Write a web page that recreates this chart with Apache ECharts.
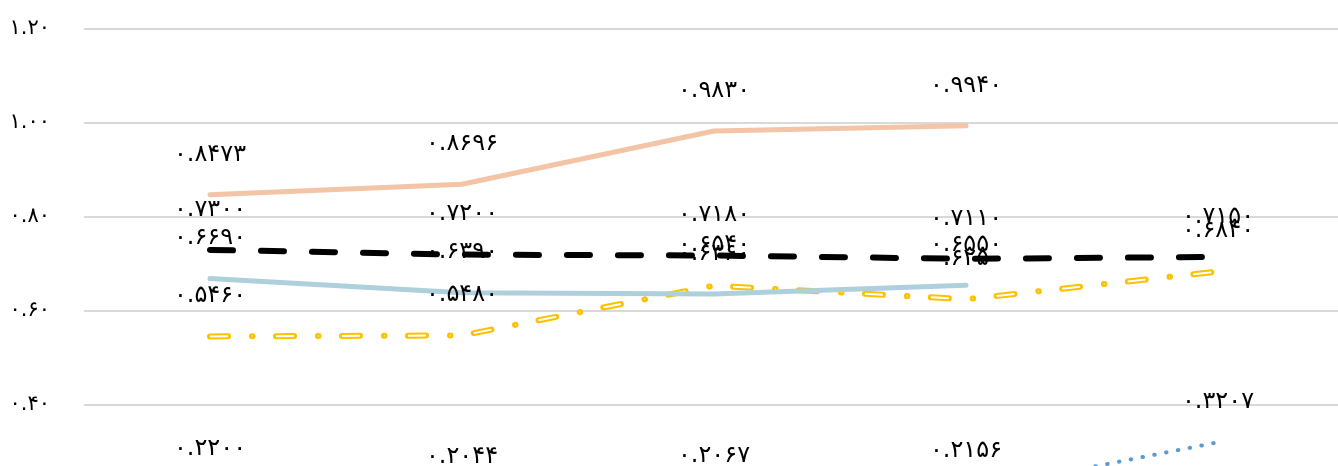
<!DOCTYPE html>
<html><head><meta charset="utf-8">
<script src="https://cdn.jsdelivr.net/npm/echarts@6/dist/echarts.min.js"></script>
<style>html,body{margin:0;padding:0;background:#fff}#c{width:1338px;height:466px}</style>
</head><body><div id="c"></div>
<script>
var categories = ['1', '2', '3', '4', '5'];
var seriesOrange = [0.8473, 0.8696, 0.9830, 0.9940, null];
var seriesBlack = [0.7300, 0.7200, 0.7180, 0.7110, 0.7150];
var seriesLightBlue = [0.6690, 0.6390, 0.6360, 0.6550, null];
var seriesYellow = [0.5460, 0.5480, 0.6540, 0.6250, 0.6840];
var seriesBlueDot = [0.2200, 0.2044, 0.2067, 0.2156, 0.3207];
var yTicks = {min: 0.2, max: 1.2, interval: 0.2};

var FA = '۰۱۲۳۴۵۶۷۸۹';
function fa(s){ return String(s).replace(/[0-9]/g, function(d){ return FA[+d]; }); }
var FONT = 'DejaVu Sans';

function labelCfg(show){
  return {
    show: show, position: 'top', distance: 28, color: '#000',
    fontFamily: FONT, fontSize: 24,
    formatter: function(p){ return p.value == null ? '' : fa(Number(p.value).toFixed(4)); }
  };
}
function line(data, color, width, type, cap, showLabel, z){
  return {
    type: 'line', data: data, symbol: 'circle', symbolSize: 1,
    itemStyle: {color: 'rgba(0,0,0,0)'},
    lineStyle: {color: color, width: width, type: type, cap: cap},
    label: labelCfg(showLabel), connectNulls: false, z: z,
    emphasis: {disabled: true}, silent: true
  };
}

var chart = echarts.init(document.getElementById('c'), null, {renderer: 'canvas'});
chart.setOption({
  animation: false,
  backgroundColor: '#fff',
  grid: {left: 84, right: -6, top: 29, bottom: -33, outerBoundsMode: 'none', containLabel: false},
  xAxis: {type: 'category', data: categories, boundaryGap: true,
    axisLine: {show: false}, axisTick: {show: false}, axisLabel: {show: false}},
  yAxis: {type: 'value', min: yTicks.min, max: yTicks.max, interval: yTicks.interval,
    axisLine: {show: false}, axisTick: {show: false},
    splitLine: {lineStyle: {color: '#d9d9d9', width: 2}},
    axisLabel: {margin: 34, fontSize: 21, color: '#000', fontFamily: FONT,
      formatter: function(v){ return fa(v.toFixed(2)); }}},
  series: [
    line(seriesOrange, '#F4C4A6', 5, 'solid', 'round', true, 2),
    line(seriesBlack, '#000000', 6, [23, 28], 'round', true, 2),
    line(seriesYellow, '#FFC000', 6, [18, 24, 0.5, 23.5], 'round', true, 2),
    line(seriesYellow, '#FFFFFF', 2, [18, 24, 0.5, 23.5], 'butt', false, 2),
    line(seriesLightBlue, '#AECFDC', 5, 'solid', 'round', true, 2),
    line(seriesBlueDot, '#5B9BD5', 4, [0.5, 11.5], 'round', true, 2)
  ]
});
</script></body></html>
